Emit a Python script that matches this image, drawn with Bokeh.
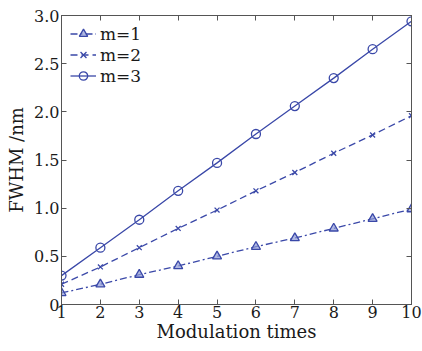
from bokeh.plotting import figure
from bokeh.models import LinearAxis, FixedTicker, Legend, LegendItem, Range1d
from bokeh.embed import file_html
from bokeh.resources import INLINE

times = [1, 2, 3, 4, 5, 6, 7, 8, 9, 10]
m1 = [0.12, 0.21, 0.31, 0.40, 0.50, 0.60, 0.69, 0.79, 0.89, 0.99]
m2 = [0.21, 0.39, 0.59, 0.79, 0.98, 1.18, 1.37, 1.57, 1.76, 1.96]
m3 = [0.30, 0.59, 0.88, 1.18, 1.47, 1.77, 2.06, 2.35, 2.65, 2.94]
labels = ["m=1", "m=2", "m=3"]
yticks = [0, 0.5, 1.0, 1.5, 2.0, 2.5, 3.0]
ytick_labels = {0: "0", 0.5: "0.5", 1.0: "1.0", 1.5: "1.5", 2.0: "2.0", 2.5: "2.5", 3.0: "3.0"}

FONT = "DejaVu Serif"
BLUE = "#3a48a8"
AX = "#555555"
TXT = "#1a1a1a"

p = figure(width=422, height=351, output_backend="svg", toolbar_location=None,
           x_range=Range1d(1, 10), y_range=Range1d(0, 3),
           min_border_left=61, min_border_right=11, min_border_top=15, min_border_bottom=47)
p.grid.visible = False
p.outline_line_color = AX
p.background_fill_color = "white"
p.border_fill_color = "white"

for ax in [p.xaxis[0], p.yaxis[0]]:
    ax.axis_line_color = AX
    ax.major_tick_line_color = AX
    ax.major_tick_in = 5
    ax.major_tick_out = 0
    ax.minor_tick_line_color = None
    ax.major_label_text_font = FONT
    ax.major_label_text_font_size = "16px"
    ax.major_label_text_color = TXT
    ax.axis_label_text_font = FONT
    ax.axis_label_text_font_size = "18px"
    ax.axis_label_text_font_style = "normal"
    ax.axis_label_text_color = TXT

p.xaxis[0].ticker = FixedTicker(ticks=times)
p.yaxis[0].ticker = FixedTicker(ticks=yticks)
p.yaxis[0].major_label_overrides = ytick_labels
p.xaxis[0].axis_label = "Modulation times"
p.yaxis[0].axis_label = "FWHM /nm"
p.xaxis[0].major_label_standoff = 1
p.yaxis[0].major_label_standoff = 2
p.xaxis[0].axis_label_standoff = 0
p.yaxis[0].axis_label_standoff = 4

for loc, tk in [("above", times), ("right", yticks)]:
    a = LinearAxis(ticker=FixedTicker(ticks=tk))
    a.axis_line_color = AX
    a.major_tick_line_color = AX
    a.major_tick_in = 5
    a.major_tick_out = 0
    a.minor_tick_line_color = None
    a.major_label_text_font_size = "0px"
    a.major_label_text_color = None
    a.major_label_standoff = 0
    p.add_layout(a, loc)

l1 = p.line(times, m1, line_color=BLUE, line_width=1.3, line_dash="7 3 2 3")
s1 = p.scatter(times, m1, marker="triangle", size=9, line_color=BLUE, fill_color="#8f9ad6",
               fill_alpha=0.7, line_width=1.3)
l2 = p.line(times, m2, line_color=BLUE, line_width=1.3, line_dash="7 4")
s2 = p.scatter(times, m2, marker="x", size=7, line_color=BLUE, line_width=1.3)
l3 = p.line(times, m3, line_color=BLUE, line_width=1.3)
s3 = p.scatter(times, m3, marker="circle", size=9, line_color=BLUE, fill_color=None, line_width=1.3)

legend = Legend(items=[LegendItem(label=labels[0], renderers=[l1, s1]),
                       LegendItem(label=labels[1], renderers=[l2, s2]),
                       LegendItem(label=labels[2], renderers=[l3, s3])])
legend.margin = 0
legend.padding = 2
legend.spacing = 0
legend.border_line_color = None
legend.background_fill_alpha = 0
legend.label_text_font = FONT
legend.label_text_font_size = "17px"
legend.label_text_color = TXT
legend.glyph_width = 26
legend.glyph_height = 21
legend.label_height = 21
legend.label_standoff = 4
legend.location = (9, 218)
p.add_layout(legend, "center")

open("out.html", "w").write(file_html(p, INLINE))
